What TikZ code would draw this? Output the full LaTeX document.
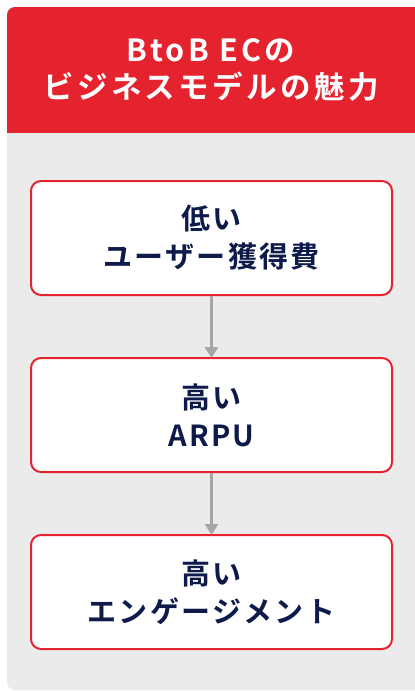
\documentclass[tikz,border=0pt]{standalone}
\usepackage{fontspec}
\setmainfont{Noto Sans CJK JP}[BoldFont={* Bold}]
\newfontfamily\jpbold{Noto Sans CJK JP Bold}[LetterSpace=8]
\newfontfamily\jptitle{Noto Sans CJK JP Bold}[LetterSpace=11]
\usetikzlibrary{arrows.meta}
\definecolor{hdrred}{HTML}{E5232F}
\definecolor{panelgray}{HTML}{EBEBEB}
\definecolor{navy}{HTML}{0D1A4A}
\definecolor{arrowgray}{HTML}{A6A6A6}
\tikzset{
  stepbox/.style={draw=hdrred, line width=2pt, fill=white, rounded corners=10pt,
    minimum width=361pt, minimum height=114pt, inner sep=0pt,
    text=navy, align=center, font=\jpbold\fontsize{29}{38}\selectfont},
  flow/.style={draw=arrowgray, line width=3pt, -{Triangle[width=13pt,length=11pt]}, shorten >=-1pt}
}
\begin{document}
\begin{tikzpicture}[x=1pt,y=-1pt]
\useasboundingbox (0,0) rectangle (415,691);
\begin{scope}
\clip (0,0) rectangle (415,691);
\fill[panelgray, rounded corners=8pt] (7,7) rectangle (425,690);
\fill[hdrred, rounded corners=8pt] (7,7) rectangle (425,60);
\fill[hdrred] (7,40) rectangle (425,133);
\end{scope}
\node[text=white, align=center, font=\jptitle\fontsize{30.5}{37}\selectfont] (title) at (211,70) {BtoB ECの\\ビジネスモデルの魅力};
\node[stepbox] (b1) at (211.5,238) {低い\\ユーザー獲得費};
\node[stepbox] (b2) at (211.5,415) {高い\\ARPU};
\node[stepbox] (b3) at (211.5,592) {高い\\エンゲージメント};
\draw[flow] (b1.south) -- (b2.north);
\draw[flow] (b2.south) -- (b3.north);
\end{tikzpicture}
\end{document}
